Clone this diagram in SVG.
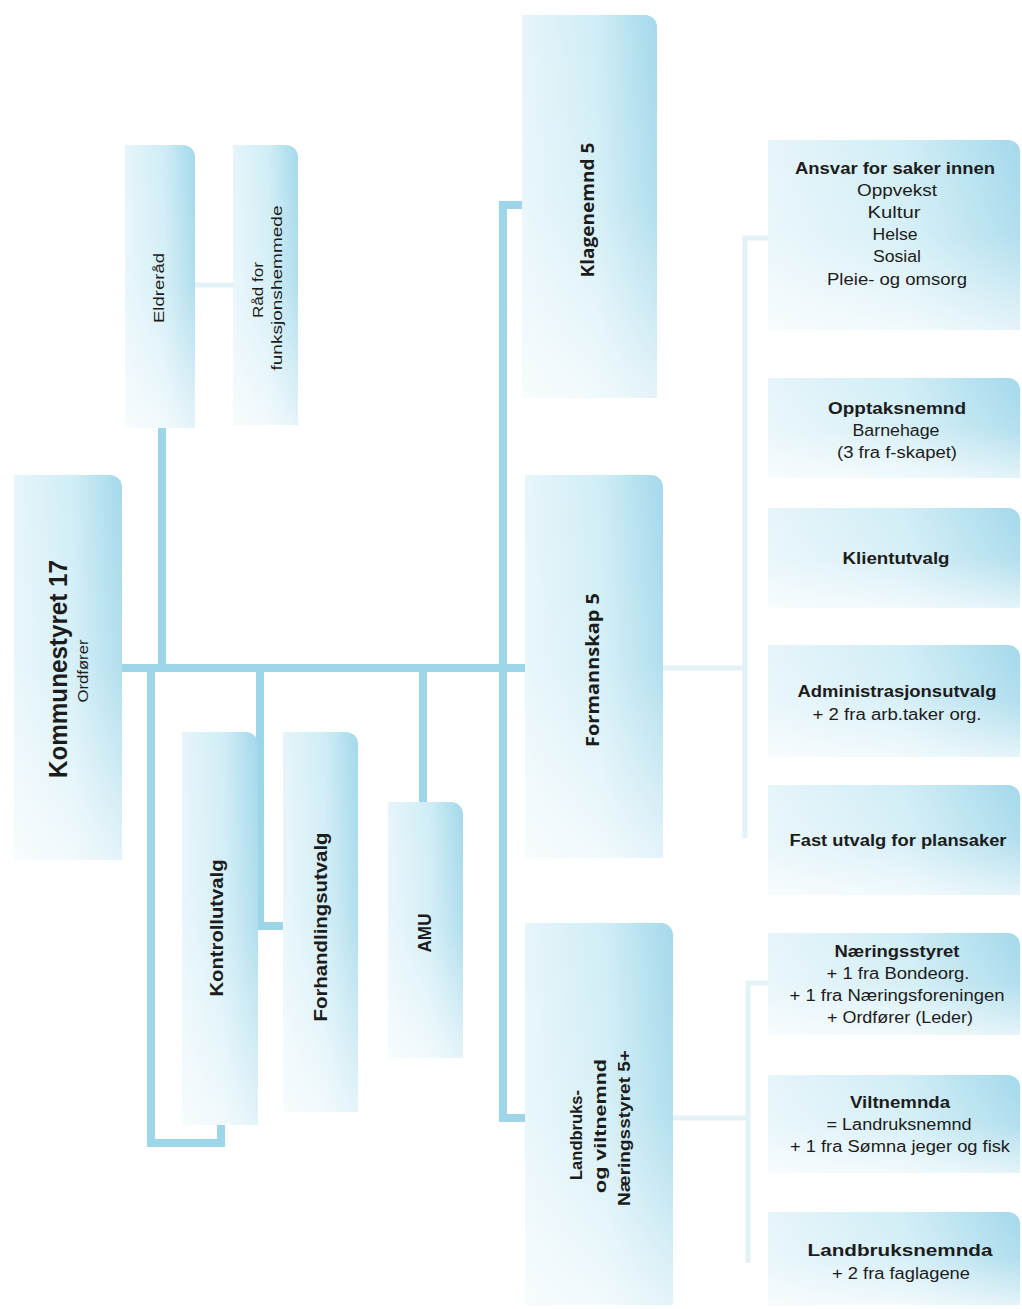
<svg xmlns="http://www.w3.org/2000/svg" width="1022" height="1309" viewBox="0 0 1022 1309">
<defs>
<linearGradient id="base" x1="0" y1="0" x2="1" y2="0">
<stop offset="0" stop-color="#e6f5fa"/>
<stop offset="0.55" stop-color="#d0edf6"/>
<stop offset="1" stop-color="#a4d9eb"/>
</linearGradient>
<linearGradient id="fade" x1="0" y1="0" x2="0" y2="1">
<stop offset="0" stop-color="#ffffff" stop-opacity="0"/>
<stop offset="0.5" stop-color="#ffffff" stop-opacity="0.15"/>
<stop offset="1" stop-color="#ffffff" stop-opacity="0.7"/>
</linearGradient>
</defs>
<style>
.box{fill:url(#base)}
.fade{fill:url(#fade)}
.con{fill:none;stroke:#9dd5e9;stroke-width:8;stroke-linejoin:miter}
.faint{fill:none;stroke:#e3f2f7;stroke-width:5}
text{font-family:"Liberation Sans",Arial,sans-serif;fill:#1c1c1c}
.v{text-anchor:middle}
.b{font-weight:bold}
.cal{font-family:"Open Sans","Liberation Sans",sans-serif;font-weight:bold}
.h{text-anchor:middle;font-size:16px}
</style>
<rect width="1022" height="1309" fill="#ffffff"/>

<g id="connectors">
<path class="con" d="M162 428 V668"/>
<path class="con" d="M122 668 H525"/>
<path class="con" d="M151 668 V1143 H221 V1125"/>
<path class="con" d="M260 668 V926 H283"/>
<path class="con" d="M423 668 V802"/>
<path class="con" d="M522 205 H503 V1118 H525"/>
<path class="faint" d="M195 285 H233"/>
<path class="faint" d="M663 668 H745"/>
<path class="faint" d="M768 238 H745 V838"/>
<path class="faint" d="M673 1118 H748"/>
<path class="faint" d="M770 983 H748 V1263"/>
</g>

<g id="kommunestyret">
<path class="box" d="M14 475 H110 A12 12 0 0 1 122 487 V860 H14 Z"/>
<path class="fade" d="M14 475 H110 A12 12 0 0 1 122 487 V860 H14 Z"/>
<text class="v b" font-size="25" transform="translate(67,669) rotate(-90)" textLength="218" lengthAdjust="spacingAndGlyphs">Kommunestyret 17</text>
<text class="v" font-size="15" transform="translate(88,671) rotate(-90)" textLength="63" lengthAdjust="spacingAndGlyphs">Ordfører</text>
</g>

<g id="eldrerad">
<path class="box" d="M125 145 H183 A12 12 0 0 1 195 157 V428 H125 Z"/>
<path class="fade" d="M125 145 H183 A12 12 0 0 1 195 157 V428 H125 Z"/>
<text class="v" font-size="15" transform="translate(164,288) rotate(-90)" textLength="70" lengthAdjust="spacingAndGlyphs">Eldreråd</text>
</g>

<g id="rad-funksjonshemmede">
<path class="box" d="M233 145 H286 A12 12 0 0 1 298 157 V425 H233 Z"/>
<path class="fade" d="M233 145 H286 A12 12 0 0 1 298 157 V425 H233 Z"/>
<text class="v" font-size="15" transform="translate(263,290) rotate(-90)" textLength="56" lengthAdjust="spacingAndGlyphs">Råd for</text>
<text class="v" font-size="15" transform="translate(282,288) rotate(-90)" textLength="165" lengthAdjust="spacingAndGlyphs">funksjonshemmede</text>
</g>

<g id="kontrollutvalg">
<path class="box" d="M182 732 H246 A12 12 0 0 1 258 744 V1125 H182 Z"/>
<path class="fade" d="M182 732 H246 A12 12 0 0 1 258 744 V1125 H182 Z"/>
<text class="v b" font-size="18" transform="translate(223,928) rotate(-90)" textLength="137" lengthAdjust="spacingAndGlyphs">Kontrollutvalg</text>
</g>

<g id="forhandlingsutvalg">
<path class="box" d="M283 732 H346 A12 12 0 0 1 358 744 V1112 H283 Z"/>
<path class="fade" d="M283 732 H346 A12 12 0 0 1 358 744 V1112 H283 Z"/>
<text class="v b" font-size="18" transform="translate(327,927) rotate(-90)" textLength="189" lengthAdjust="spacingAndGlyphs">Forhandlingsutvalg</text>
</g>

<g id="amu">
<path class="box" d="M388 802 H451 A12 12 0 0 1 463 814 V1058 H388 Z"/>
<path class="fade" d="M388 802 H451 A12 12 0 0 1 463 814 V1058 H388 Z"/>
<text class="v b" font-size="18" transform="translate(431,933) rotate(-90)" textLength="39" lengthAdjust="spacingAndGlyphs">AMU</text>
</g>

<g id="klagenemnd">
<path class="box" d="M522 15 H645 A12 12 0 0 1 657 27 V398 H522 Z"/>
<path class="fade" d="M522 15 H645 A12 12 0 0 1 657 27 V398 H522 Z"/>
<text class="v cal" font-size="17" transform="translate(594,210) rotate(-90)" textLength="135" lengthAdjust="spacingAndGlyphs">Klagenemnd 5</text>
</g>

<g id="formannskap">
<path class="box" d="M525 475 H651 A12 12 0 0 1 663 487 V858 H525 Z"/>
<path class="fade" d="M525 475 H651 A12 12 0 0 1 663 487 V858 H525 Z"/>
<text class="v cal" font-size="17" transform="translate(599,670) rotate(-90)" textLength="154" lengthAdjust="spacingAndGlyphs">Formannskap 5</text>
</g>

<g id="landbruks-viltnemnd">
<path class="box" d="M525 923 H661 A12 12 0 0 1 673 935 V1305 H525 Z"/>
<path class="fade" d="M525 923 H661 A12 12 0 0 1 673 935 V1305 H525 Z"/>
<text class="v b" font-size="17" transform="translate(582,1135) rotate(-90)" textLength="90" lengthAdjust="spacingAndGlyphs">Landbruks-</text>
<text class="v b" font-size="17" transform="translate(606,1126) rotate(-90)" textLength="134" lengthAdjust="spacingAndGlyphs">og viltnemnd</text>
<text class="v b" font-size="17" transform="translate(630,1128) rotate(-90)" textLength="156" lengthAdjust="spacingAndGlyphs">Næringsstyret 5+</text>
</g>

<g id="ansvar">
<path class="box" d="M768 140 H1008 A12 12 0 0 1 1020 152 V330 H768 Z"/>
<path class="fade" d="M768 140 H1008 A12 12 0 0 1 1020 152 V330 H768 Z"/>
<text class="h b" x="895" y="174" textLength="200" lengthAdjust="spacingAndGlyphs">Ansvar for saker innen</text>
<text class="h" x="897" y="196" textLength="80" lengthAdjust="spacingAndGlyphs">Oppvekst</text>
<text class="h" x="894" y="218" textLength="53" lengthAdjust="spacingAndGlyphs">Kultur</text>
<text class="h" x="895" y="240" textLength="45" lengthAdjust="spacingAndGlyphs">Helse</text>
<text class="h" x="897" y="262" textLength="48" lengthAdjust="spacingAndGlyphs">Sosial</text>
<text class="h" x="897" y="285" textLength="140" lengthAdjust="spacingAndGlyphs">Pleie- og omsorg</text>
</g>

<g id="opptaksnemnd">
<path class="box" d="M768 378 H1008 A12 12 0 0 1 1020 390 V478 H768 Z"/>
<path class="fade" d="M768 378 H1008 A12 12 0 0 1 1020 390 V478 H768 Z"/>
<text class="h b" x="897" y="414" textLength="138" lengthAdjust="spacingAndGlyphs">Opptaksnemnd</text>
<text class="h" x="896" y="436" textLength="87" lengthAdjust="spacingAndGlyphs">Barnehage</text>
<text class="h" x="897" y="458" textLength="120" lengthAdjust="spacingAndGlyphs">(3 fra f-skapet)</text>
</g>

<g id="klientutvalg">
<path class="box" d="M768 508 H1008 A12 12 0 0 1 1020 520 V608 H768 Z"/>
<path class="fade" d="M768 508 H1008 A12 12 0 0 1 1020 520 V608 H768 Z"/>
<text class="h b" x="896" y="564" textLength="107" lengthAdjust="spacingAndGlyphs">Klientutvalg</text>
</g>

<g id="administrasjonsutvalg">
<path class="box" d="M768 645 H1008 A12 12 0 0 1 1020 657 V757 H768 Z"/>
<path class="fade" d="M768 645 H1008 A12 12 0 0 1 1020 657 V757 H768 Z"/>
<text class="h b" x="897" y="697" textLength="199" lengthAdjust="spacingAndGlyphs">Administrasjonsutvalg</text>
<text class="h" x="897" y="720" textLength="169" lengthAdjust="spacingAndGlyphs">+ 2 fra arb.taker org.</text>
</g>

<g id="fast-utvalg">
<path class="box" d="M768 785 H1008 A12 12 0 0 1 1020 797 V895 H768 Z"/>
<path class="fade" d="M768 785 H1008 A12 12 0 0 1 1020 797 V895 H768 Z"/>
<text class="h b" x="898" y="846" textLength="217" lengthAdjust="spacingAndGlyphs">Fast utvalg for plansaker</text>
</g>

<g id="naeringsstyret">
<path class="box" d="M768 933 H1008 A12 12 0 0 1 1020 945 V1035 H768 Z"/>
<path class="fade" d="M768 933 H1008 A12 12 0 0 1 1020 945 V1035 H768 Z"/>
<text class="h b" x="897" y="957" textLength="125" lengthAdjust="spacingAndGlyphs">Næringsstyret</text>
<text class="h" x="898" y="979" textLength="143" lengthAdjust="spacingAndGlyphs">+ 1 fra Bondeorg.</text>
<text class="h" x="897" y="1001" textLength="215" lengthAdjust="spacingAndGlyphs">+ 1 fra Næringsforeningen</text>
<text class="h" x="900" y="1023" textLength="146" lengthAdjust="spacingAndGlyphs">+ Ordfører (Leder)</text>
</g>

<g id="viltnemnda">
<path class="box" d="M768 1075 H1008 A12 12 0 0 1 1020 1087 V1173 H768 Z"/>
<path class="fade" d="M768 1075 H1008 A12 12 0 0 1 1020 1087 V1173 H768 Z"/>
<text class="h b" x="900" y="1108" textLength="100" lengthAdjust="spacingAndGlyphs">Viltnemnda</text>
<text class="h" x="899" y="1130" textLength="145" lengthAdjust="spacingAndGlyphs">= Landruksnemnd</text>
<text class="h" x="900" y="1152" textLength="220" lengthAdjust="spacingAndGlyphs">+ 1 fra Sømna jeger og fisk</text>
</g>

<g id="landbruksnemnda">
<path class="box" d="M768 1212 H1008 A12 12 0 0 1 1020 1224 V1305 H768 Z"/>
<path class="fade" d="M768 1212 H1008 A12 12 0 0 1 1020 1224 V1305 H768 Z"/>
<text class="h b" x="900" y="1256" textLength="185" lengthAdjust="spacingAndGlyphs">Landbruksnemnda</text>
<text class="h" x="901" y="1279" textLength="138" lengthAdjust="spacingAndGlyphs">+ 2 fra faglagene</text>
</g>
</svg>
